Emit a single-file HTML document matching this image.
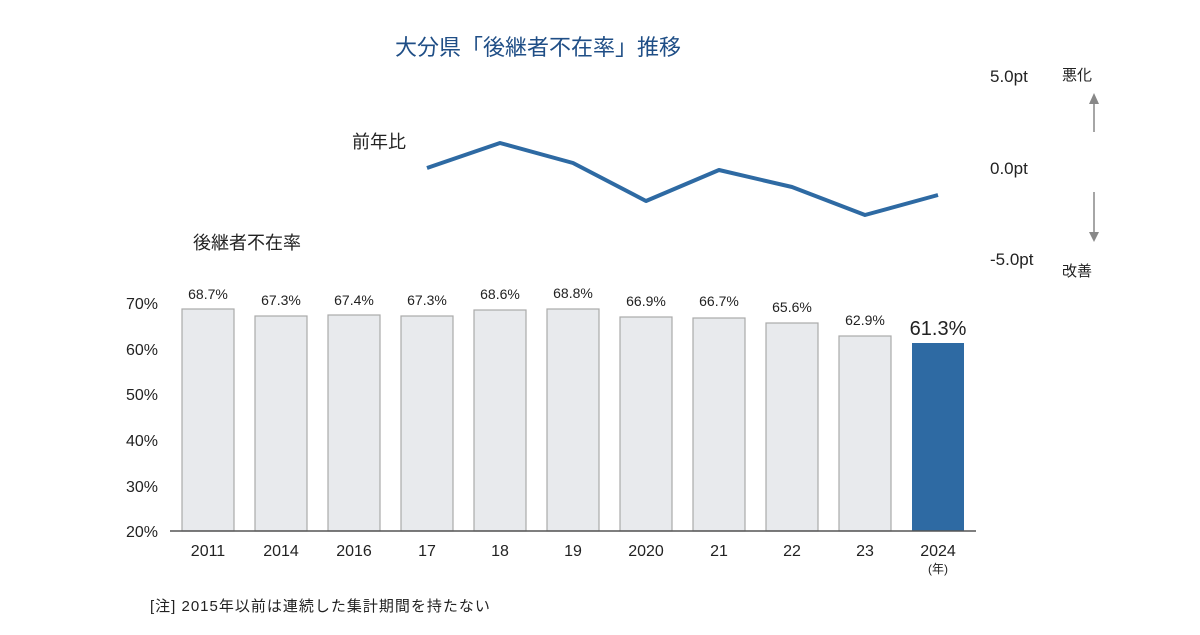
<!DOCTYPE html>
<html><head><meta charset="utf-8"><style>
body{margin:0;background:#fff}
svg text{font-family:"Liberation Sans","Noto Sans CJK JP",sans-serif;fill:#222}
</style></head><body>
<svg width="1200" height="630" viewBox="0 0 1200 630" xmlns="http://www.w3.org/2000/svg">
<text x="538" y="55" font-size="22" text-anchor="middle" style="fill:#1f4e86">大分県「後継者不在率」推移</text>
<text x="352" y="148" font-size="18">前年比</text>
<text x="193" y="249" font-size="18">後継者不在率</text>
<g font-size="17">
<text x="990" y="82">5.0pt</text>
<text x="990" y="174">0.0pt</text>
<text x="990" y="265">-5.0pt</text>
</g>
<g font-size="15">
<text x="1062" y="80">悪化</text>
<text x="1062" y="276">改善</text>
</g>
<g stroke="#888" stroke-width="1.5" fill="#888">
<line x1="1094" y1="100" x2="1094" y2="132"/><polygon points="1089,104 1099,104 1094,93" stroke="none"/>
<line x1="1094" y1="192" x2="1094" y2="232"/><polygon points="1089,232 1099,232 1094,242" stroke="none"/>
</g>
<polyline points="427,168 500,143 573,163 646,201 719,170 792,187 865,215 938,195" fill="none" stroke="#2e6aa3" stroke-width="4" stroke-linejoin="round"/>
<g font-size="16" text-anchor="end">
<text x="158" y="309">70%</text><text x="158" y="355">60%</text><text x="158" y="400">50%</text>
<text x="158" y="446">40%</text><text x="158" y="492">30%</text><text x="158" y="537">20%</text>
</g>
<g fill="#e8eaed" stroke="#aaa" stroke-width="1.2">
<rect x="182" y="309" width="52" height="222"/>
<rect x="255" y="316" width="52" height="215"/>
<rect x="328" y="315" width="52" height="216"/>
<rect x="401" y="316" width="52" height="215"/>
<rect x="474" y="310" width="52" height="221"/>
<rect x="547" y="309" width="52" height="222"/>
<rect x="620" y="317" width="52" height="214"/>
<rect x="693" y="318" width="52" height="213"/>
<rect x="766" y="323" width="52" height="208"/>
<rect x="839" y="336" width="52" height="195"/>
</g>
<rect x="912" y="343" width="52" height="188" fill="#2e6aa3"/>
<line x1="170" y1="531" x2="976" y2="531" stroke="#555" stroke-width="1.5"/>
<g font-size="14" text-anchor="middle">
<text x="208" y="299">68.7%</text><text x="281" y="305">67.3%</text><text x="354" y="305">67.4%</text>
<text x="427" y="305">67.3%</text><text x="500" y="299">68.6%</text><text x="573" y="298">68.8%</text>
<text x="646" y="306">66.9%</text><text x="719" y="306">66.7%</text><text x="792" y="312">65.6%</text>
<text x="865" y="325">62.9%</text>
<text x="938" y="335" font-size="20">61.3%</text>
</g>
<g font-size="16" text-anchor="middle">
<text x="208" y="556">2011</text><text x="281" y="556">2014</text><text x="354" y="556">2016</text>
<text x="427" y="556">17</text><text x="500" y="556">18</text><text x="573" y="556">19</text>
<text x="646" y="556">2020</text><text x="719" y="556">21</text><text x="792" y="556">22</text>
<text x="865" y="556">23</text><text x="938" y="556">2024</text>
<text x="938" y="573" font-size="12">(年)</text>
</g>
<text x="150" y="611" font-size="15" letter-spacing="1">[注]  2015年以前は連続した集計期間を持たない</text>
</svg>
</body></html>
